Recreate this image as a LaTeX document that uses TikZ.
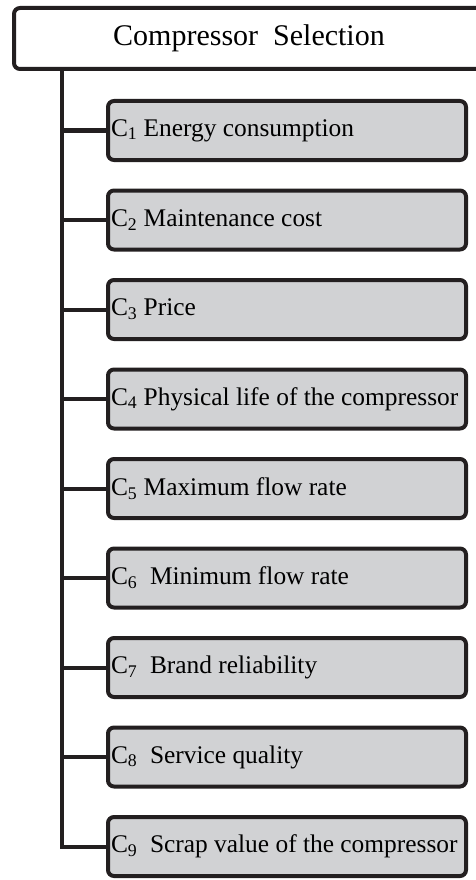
\documentclass[tikz,border=0pt]{standalone}
\usepackage{fontspec}
\setmainfont{Liberation Serif}
\definecolor{boxgray}{RGB}{209,210,212}
\definecolor{inkline}{RGB}{35,31,32}
\newcommand\critlabel[1]{\makebox[352pt][l]{#1}}
\tikzset{
  conn/.style={line width=4pt, draw=inkline},
  titlebox/.style={draw=inkline, line width=4pt, rounded corners=6pt, fill=white,
    minimum width=470pt, minimum height=61pt, inner sep=0pt, font=\fontsize{30}{32}\selectfont},
  critbox/.style={draw=inkline, line width=4pt, rounded corners=6pt, fill=boxgray,
    minimum width=358pt, minimum height=59pt, inner xsep=3pt, inner ysep=0pt,
    font=\fontsize{25.4}{28}\selectfont},
}
\begin{document}
\begin{tikzpicture}[x=1pt,y=-1pt]
\useasboundingbox (0,0) rectangle (475,880);
\node[titlebox] (title) at (249,38.5) {Compressor\ \ Selection};
\node[critbox] (c1) at (287,130.5) {\critlabel{C\textsubscript{1} Energy consumption}};
\node[critbox] (c2) at (287,220) {\critlabel{C\textsubscript{2} Maintenance cost}};
\node[critbox] (c3) at (287,309.5) {\critlabel{C\textsubscript{3} Price}};
\node[critbox] (c4) at (287,399) {\critlabel{C\textsubscript{4} Physical life of the compressor}};
\node[critbox] (c5) at (287,488.5) {\critlabel{C\textsubscript{5} Maximum flow rate}};
\node[critbox] (c6) at (287,578) {\critlabel{C\textsubscript{6}\ \ Minimum flow rate}};
\node[critbox] (c7) at (287,667.5) {\critlabel{C\textsubscript{7}\ \ Brand reliability}};
\node[critbox] (c8) at (287,757) {\critlabel{C\textsubscript{8}\ \ Service quality}};
\node[critbox] (c9) at (287,846.5) {\critlabel{C\textsubscript{9}\ \ Scrap value of the compressor}};
\coordinate (spinetop) at (62,71);
\draw[conn] (spinetop) |- (c9.west);
\foreach \i in {1,...,8} {
  \draw[conn] (c\i.west) -- (c\i.west -| spinetop);
}
\end{tikzpicture}
\end{document}
